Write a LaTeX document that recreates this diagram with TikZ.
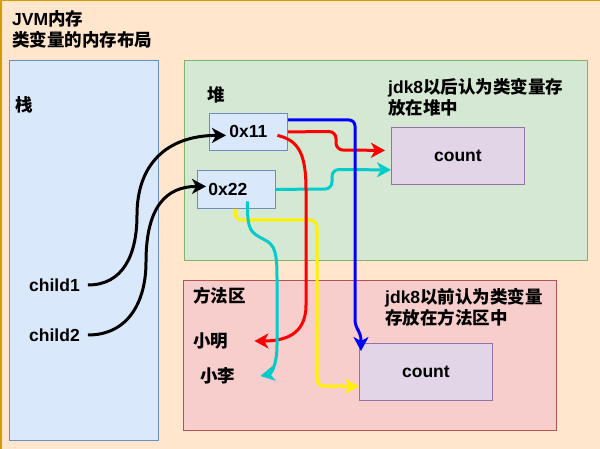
\documentclass[tikz,border=0pt]{standalone}
\usepackage{fontspec}
\setmainfont{Liberation Sans}
\newfontfamily\zhfont{Noto Sans CJK SC}
\usepackage{tikz}
\usetikzlibrary{arrows.meta,positioning,calc}

\definecolor{bgfill}{HTML}{FFE6CC}
\definecolor{bgline}{HTML}{D79B00}
\definecolor{bluefill}{HTML}{DAE8FC}
\definecolor{blueline}{HTML}{6C8EBF}
\definecolor{greenfill}{HTML}{D5E8D4}
\definecolor{greenline}{HTML}{82B366}
\definecolor{redfill}{HTML}{F8CECC}
\definecolor{redline}{HTML}{B85450}
\definecolor{purplefill}{HTML}{E1D5E7}
\definecolor{purpleline}{HTML}{9673A6}
\definecolor{cyanref}{HTML}{00CCCC}

\newcommand{\zhtxt}[1]{{\zhfont #1}}

\begin{document}
\begin{tikzpicture}[
    x=1pt, y=-1pt,
    font=\fontsize{17.5}{21.5}\selectfont\bfseries,
    region/.style={
        draw,
        line width=0.8pt,
        anchor=north west,
        inner sep=0pt
    },
    lbl/.style={anchor=west, inner sep=0pt, align=left},
    ref/.style={line width=3pt, -{Stealth[length=14pt,width=15pt,inset=4pt]}}
]
\useasboundingbox (0,0) rectangle (600,449);
\fill[bgfill] (0,0) rectangle (600,449);
\draw[bgline, line width=3pt] (0,449) -- (0,0) -- (600,0);

% memory areas
\node[region, fill=bluefill, draw=blueline, minimum width=149pt, minimum height=380pt] (stack) at (9,60) {};
\node[region, fill=greenfill, draw=greenline, minimum width=403pt, minimum height=200pt] (heap) at (184,60) {};
\node[region, fill=redfill, draw=redline, minimum width=373pt, minimum height=150pt] (method) at (183,280) {};

% address boxes and objects
\node[region, fill=bluefill, draw=blueline, minimum width=78pt, minimum height=37pt] (p11) at (209,113) {0x11};
\node[region, fill=bluefill, draw=blueline, minimum height=38pt, inner xsep=11pt, text width=56pt, align=left] (p22) at (197,170) {0x22};
\node[region, fill=purplefill, draw=purpleline, minimum width=133pt, minimum height=57pt] (cnth) at (391,127) {count};
\node[region, fill=purplefill, draw=purpleline, minimum width=133pt, minimum height=57pt] (cntm) at (359,343) {count};

% labels
\node[lbl] (title) at (12,29.5) {JVM\zhtxt{内存}\\\zhtxt{类变量的内存布局}};
\node[lbl] (zhan) at (15,105) {\zhtxt{栈}};
\node[lbl] (dui) at (207,95) {\zhtxt{堆}};
\node[lbl] (ffq) at (193,296) {\zhtxt{方法区}};
\node[lbl] (after) at (388,97.5) {jdk8\zhtxt{以后认为类变量存}\\\zhtxt{放在堆中}};
\node[lbl] (before) at (385,307.5) {jdk8\zhtxt{以前认为类变量}\\\zhtxt{存放在方法区中}};
\node[lbl] (xm) at (193,341) {\zhtxt{小明}};
\node[lbl] (xl) at (200,376) {\zhtxt{小李}};
\node[lbl] (c1) at (29,285) {child1};
\node[lbl] (c2) at (29,335) {child2};

% references
\draw[ref] ([xshift=8pt]c1.east) .. controls +(35,0) and +(0,40) .. (137,215)
    .. controls +(0,-50) and +(-60,0) .. ($(p11.west)+(17,3.5)$);
\draw[ref] ([xshift=8pt]c2.east) .. controls +(40,0) and +(0,40) .. (146,262)
    .. controls +(0,-55) and +(-40,0) .. ($(p22.west)+(9,-3)$);

\draw[ref, yellow, rounded corners=7pt] ($(p22.south)+(-1,0)$) -- (235,220) -- (317,220)
    -- (317,386) -- ($(cntm.west)+(0,14.5)$);
\draw[ref, cyanref, rounded corners=7pt] (p22.east) -- (332,189) -- (332,169.5) -- ($(cnth.west)+(0,14)$);
\draw[ref, red, rounded corners=7pt] (p11.east) -- (336,131.5) -- (336,150) -- ($(cnth.west)+(-6,-5.5)$);
\draw[ref, red] ($(p11.center)+(29,3.5)$) .. controls +(22,5) and +(0,-35) .. (306,190)
    -- (306,305) .. controls +(0,30) and +(30,0) .. ($(xm.east)+(26,0)$);
\draw[ref, cyanref] ($(p22.center)+(11,12)$) .. controls +(0,30) and +(-15,-8) .. (265,240)
    .. controls +(10,5) and +(0,-25) .. (277,278) -- (277,345)
    .. controls +(0,22) and +(10,-2) .. ($(xl.east)+(25,0)$);
\draw[ref, blue, rounded corners=6pt] ($(p11.north east)+(0,7)$) -- (355,120) -- (355,326)
    -- (361,334) -- ($(cntm.north west)+(2,8)$);
\end{tikzpicture}
\end{document}
